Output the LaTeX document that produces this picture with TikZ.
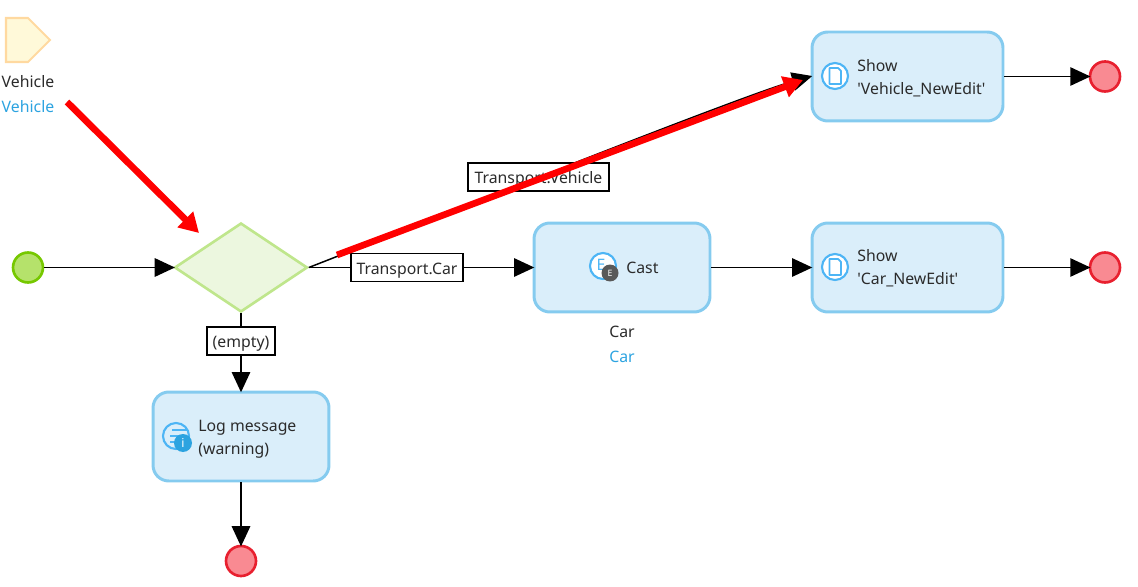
\documentclass[tikz,border=0pt]{standalone}
\usepackage{fontspec}
\usepackage{tikz}
\usetikzlibrary{arrows.meta,shapes.geometric}
\setmainfont{Noto Sans}
\definecolor{actfill}{HTML}{DAEEFA}
\definecolor{actline}{HTML}{85CBEF}
\definecolor{txtgray}{HTML}{2B2B2B}
\definecolor{txtblue}{HTML}{2CA3E0}
\definecolor{iconblue}{HTML}{4DB5F5}
\definecolor{startfill}{HTML}{B5E26B}
\definecolor{startline}{HTML}{76C800}
\definecolor{splitfill}{HTML}{ECF7DF}
\definecolor{splitline}{HTML}{BFE68C}
\definecolor{endfill}{HTML}{F98A92}
\definecolor{endline}{HTML}{E8202F}
\definecolor{paramfill}{HTML}{FFF9D9}
\definecolor{paramline}{HTML}{FFD9A0}
\tikzset{
  flow/.style={black, line width=0.85pt, shorten >=-1pt, -{Triangle[length=11.5pt,width=10.5pt]}},
  plainflow/.style={black, line width=0.85pt},
  redarrow/.style={red, line width=3.8pt, -{Triangle[length=11pt,width=12pt]}},
  action/.style={draw=actline, fill=actfill, line width=1.7pt, rounded corners=9pt, minimum width=3.52cm, minimum height=1.78cm, inner sep=0pt},
  startev/.style={circle, draw=startline, fill=startfill, line width=1.5pt, minimum size=0.6cm, inner sep=0pt},
  endev/.style={circle, draw=endline, fill=endfill, line width=1.5pt, minimum size=0.6cm, inner sep=0pt},
  cond/.style={draw=black, fill=white, line width=0.7pt, inner sep=0pt, minimum height=0.56cm, text height=9pt, text depth=1.3pt, font=\fontsize{9}{11}\selectfont, text=txtgray},
  lbl/.style={font=\fontsize{9}{13}\selectfont, text=txtgray, inner sep=0pt},
  lblblue/.style={lbl, text=txtblue},
  boxtext/.style={lbl, anchor=west, align=left},
  iconring/.style={circle, draw=iconblue, fill=white, line width=1.2pt, minimum size=0.52cm, inner sep=0pt}
}
\begin{document}
\begin{tikzpicture}[x=0.02cm, y=-0.02cm]
  \useasboundingbox (0, 0) rectangle (1138, 587);

  \draw[draw=paramline, fill=paramfill, line width=1.2pt] (6, 18) -- (28, 18) -- (50, 40) -- (28, 62) -- (6, 62) -- cycle;
  \node[lbl] (vehname) at (28, 82) {Vehicle};
  \node[lblblue] (vehtype) at (28, 107) {Vehicle};

  \node[startev] (start) at (28, 267.5) {};
  \node[diamond, aspect=1.49, draw=splitline, fill=splitfill, line width=1.5pt, minimum width=2.66cm, minimum height=1.78cm, inner sep=0pt] (split) at (241, 267.5) {};

  \node[action] (cast) at (622, 267.5) {};
  \node[action, minimum width=3.82cm] (showcar) at (907.5, 267.5) {};
  \node[action, minimum width=3.82cm] (showveh) at (907.5, 76.5) {};
  \node[action] (logmsg) at (241, 436.5) {};

  \node[endev] (endveh) at (1105, 76.5) {};
  \node[endev] (endcar) at (1105, 267.5) {};
  \node[endev] (endlog) at (241, 561) {};

  \node[cond, minimum width=2.82cm] (condveh) at (538.5, 177) {Transport.Vehicle};
  \node[cond, minimum width=2.24cm] (condcar) at (407, 267.5) {Transport.Car};
  \node[cond, minimum width=1.36cm] (condempty) at (241, 341) {(empty)};

  \draw[flow] (start) -- (split);
  \draw[plainflow] (split.east) -- (condcar);
  \draw[flow] (condcar) -- (cast);
  \draw[flow] (cast) -- (showcar);
  \draw[flow] (showcar) -- (endcar);
  \draw[flow] (showveh) -- (endveh);
  \draw[plainflow] (split) -- (condempty);
  \draw[flow] (condempty) -- (logmsg);
  \draw[flow] (logmsg) -- (endlog);
  \draw[flow] (split.east) .. controls (400, 232) and (740, 96) .. (showveh.west);
  \node[cond, minimum width=2.82cm] at (condveh) {Transport.Vehicle};
  \node[cond, minimum width=2.24cm] at (condcar) {Transport.Car};
  \node[cond, minimum width=1.36cm] at (condempty) {(empty)};

  % cast icon
  \node[iconring] (casticon) at (603, 266) {};
  \node[font=\fontsize{9}{9}\selectfont\bfseries, text=iconblue, inner sep=0pt] (castletter) at (601, 265) {E};
  \node[circle, fill=black!65, minimum size=0.34cm, inner sep=0pt, font=\fontsize{5}{5}\selectfont\bfseries, text=white] (castbadge) at (610, 273) {E};
  \node[lbl, anchor=west] (casttext) at (626, 268) {Cast};
  \node[lbl] (carname) at (622, 332) {Car};
  \node[lblblue] (cartype) at (622, 357) {Car};

  % page icons
  \foreach \nm/\ypos in {vehicon/76, caricon/267}{
    \node[iconring] (\nm) at (835, \ypos) {};
    \draw[iconblue, fill=white, line width=1pt, line join=round] (829.5, \ypos-8) -- (838, \ypos-8) -- (841, \ypos-5) -- (841, \ypos+8) -- (829.5, \ypos+8) -- cycle;
  }
  \node[boxtext] (vehtext) at (857, 78) {Show\\\textquotesingle Vehicle\_NewEdit\textquotesingle};
  \node[boxtext] (cartext) at (857, 268) {Show\\\textquotesingle Car\_NewEdit\textquotesingle};

  % log icon
  \node[iconring, fill=actfill] (logicon) at (176, 436) {};
  \draw[iconblue, line width=1pt] (172, 430) -- (187, 430) (170, 436) -- (180, 436) (170, 442) -- (176, 442);
  \node[circle, fill=txtblue, minimum size=0.36cm, inner sep=0pt, font=\fontsize{7}{7}\selectfont\bfseries, text=white] (logbadge) at (183, 443) {i};
  \node[boxtext] (logtext) at (198, 439) {Log message\\(warning)};

  \coordinate (redaa) at (67, 102);
  \coordinate (redab) at (199, 233);
  \coordinate (redba) at (337, 255);
  \coordinate (redbb) at (803, 80);
  \draw[redarrow] (redaa) -- (redab);
  \draw[redarrow] (redba) -- (redbb);
\end{tikzpicture}
\end{document}
